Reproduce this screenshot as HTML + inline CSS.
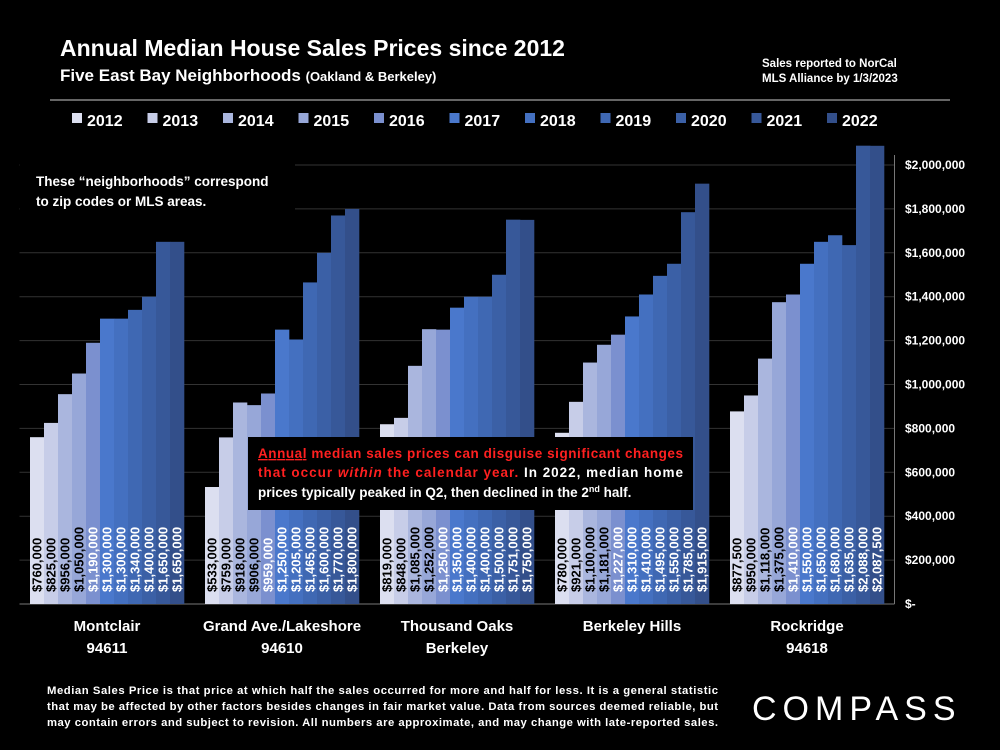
<!DOCTYPE html>
<html><head><meta charset="utf-8"><style>
body{margin:0;background:#000;width:1000px;height:750px;overflow:hidden;font-family:"Liberation Sans",sans-serif;color:#fff}
</style></head><body>
<svg width="1000" height="750" xmlns="http://www.w3.org/2000/svg" style="position:absolute;left:0;top:0" font-family="Liberation Sans, sans-serif">
<rect width="1000" height="750" fill="#000"/>
<text x="60" y="56" font-size="23" font-weight="bold" fill="#fff">Annual Median House Sales Prices since 2012</text>
<text x="60" y="81" font-size="17" font-weight="bold" fill="#fff">Five East Bay Neighborhoods <tspan font-size="13">(Oakland &amp; Berkeley)</tspan></text>
<text x="762" y="67" font-size="11.5" font-weight="bold" fill="#fff">Sales reported to NorCal</text>
<text x="762" y="82" font-size="11.5" font-weight="bold" fill="#fff">MLS Alliance by 1/3/2023</text>
<line x1="50" y1="100" x2="950" y2="100" stroke="#888" stroke-width="1.5"/>
<g id="legend"></g>
<g id="grid"></g>
<rect x="20" y="164" width="275" height="54" fill="#000"/>
<text x="36" y="186" font-size="13.5" font-weight="bold" fill="#fff">These “neighborhoods” correspond</text>
<text x="36" y="206" font-size="13.5" font-weight="bold" fill="#fff">to zip codes or MLS areas.</text>
<g id="bars"></g>
<g id="ylabels"></g>
<g id="cats"></g>
<rect x="248" y="437" width="445" height="73" fill="#000"/>
<text x="258" y="458" font-size="13.5" font-weight="bold" fill="#ff2020" textLength="425" lengthAdjust="spacing"><tspan text-decoration="underline">Annual</tspan> median sales prices can disguise significant changes</text>
<text x="258" y="477" font-size="13.5" font-weight="bold" fill="#ff2020" textLength="425" lengthAdjust="spacing">that occur <tspan font-style="italic">within</tspan> the calendar year. <tspan fill="#fff">In 2022, median home</tspan></text>
<text x="258" y="497" font-size="13.5" font-weight="bold" fill="#fff">prices typically peaked in Q2, then declined in the 2<tspan font-size="9" dy="-5">nd</tspan><tspan dy="5"> half.</tspan></text>
<text x="47" y="694" font-size="11.3" font-weight="bold" fill="#fff" textLength="671" lengthAdjust="spacing">Median Sales Price is that price at which half the sales occurred for more and half for less. It is a general statistic</text>
<text x="47" y="710" font-size="11.3" font-weight="bold" fill="#fff" textLength="671" lengthAdjust="spacing">that may be affected by other factors besides changes in fair market value. Data from sources deemed reliable, but</text>
<text x="47" y="726" font-size="11.3" font-weight="bold" fill="#fff" textLength="671" lengthAdjust="spacing">may contain errors and subject to revision.  All numbers are approximate, and may change with late-reported sales.</text>
<text x="752" y="720" font-size="34" fill="#fff" letter-spacing="6">COMPASS</text>
</svg>
<script>
const categories=["Montclair|94611","Grand Ave./Lakeshore|94610","Thousand Oaks|Berkeley","Berkeley Hills|","Rockridge|94618"];
const years=["2012","2013","2014","2015","2016","2017","2018","2019","2020","2021","2022"];
const montclair=[760000,825000,956000,1050000,1190000,1300000,1300000,1340000,1400000,1650000,1650000];
const grandAve=[533000,759000,918000,906000,959000,1250000,1205000,1465000,1600000,1770000,1800000];
const thousandOaks=[819000,848000,1085000,1252000,1250000,1350000,1400000,1400000,1500000,1751000,1750000];
const berkeleyHills=[780000,921000,1100000,1181000,1227000,1310000,1410000,1495000,1550000,1785000,1915000];
const rockridge=[877500,950000,1118000,1375000,1410000,1550000,1650000,1680000,1635000,2088000,2087500];
const seriesByCat=[montclair,grandAve,thousandOaks,berkeleyHills,rockridge];
const yTicks=[0,200000,400000,600000,800000,1000000,1200000,1400000,1600000,1800000,2000000];
const colors=["#dcdff0","#c7cde8","#aab6de","#97a7d8","#7b90cf","#4a78cc","#4470c0","#3f68b3","#3b60a6","#375899","#334f8a"];
const NS="http://www.w3.org/2000/svg";
const X0=19.5,CW=175,Y0=604,YMAX=2000000,YTOP=165;
const y=v=>Y0-(v/YMAX)*(Y0-YTOP);
const fmt=v=>"$"+v.toLocaleString("en-US");
function mk(t,a,p){const e=document.createElementNS(NS,t);for(const k in a)e.setAttribute(k,a[k]);p.appendChild(e);return e;}
const grid=document.getElementById("grid"),yl=document.getElementById("ylabels");
yTicks.forEach(v=>{
 const l=mk("line",{x1:X0,x2:X0+5*CW,y1:y(v),y2:y(v),stroke:v===0?"#777":"#333","stroke-width":1},grid);
 
 
 const t=mk("text",{x:905,y:y(v)+4,"font-size":12,"font-weight":"bold",fill:"#fff"},yl);
 t.textContent=v===0?"$-":fmt(v);
 
 
});
mk("line",{x1:X0+5*CW,x2:X0+5*CW,y1:YTOP-10,y2:Y0,stroke:"#777"},grid);
const bars=document.getElementById("bars"),cats=document.getElementById("cats");
const bw=14;
seriesByCat.forEach((s,ci)=>{
 const gx=X0+ci*CW+10.5;
 s.forEach((v,i)=>{
  const x=gx+i*bw;
  const r=mk("rect",{x:x,y:y(v),width:bw+0.3,height:Y0-y(v),fill:colors[i]},bars);
  
  
  const t=mk("text",{transform:`translate(${x+11.5},${Y0-12}) rotate(-90)`,"font-size":13,"font-weight":"bold",fill:i<4?"#000":"#fff"},bars);
  t.textContent=fmt(v);
  
  
 });
 const parts=categories[ci].split("|");
 parts.forEach((p,k)=>{if(!p)return;
  const t=mk("text",{x:X0+ci*CW+CW/2,y:631+k*22,"font-size":15,"font-weight":"bold",fill:"#fff","text-anchor":"middle"},cats);
  t.textContent=p;
  
  
 });
});
const lg=document.getElementById("legend");
years.forEach((yr,i)=>{
 const x=72+i*75.5;
 const r=mk("rect",{x:x,y:113,width:10,height:10,fill:colors[i]},lg);
 
 
 const t=mk("text",{x:x+15,y:126,"font-size":16,"font-weight":"bold",fill:"#fff"},lg);
 t.textContent=yr;
 
 
});
</script>
</body></html>
